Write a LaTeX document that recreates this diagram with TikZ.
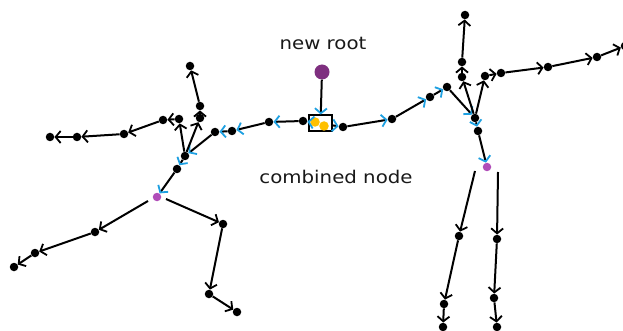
\documentclass[tikz,border=0pt]{standalone}
\usepackage{graphicx}
\usepackage{fontspec}
\setmainfont{DejaVu Sans}
\usetikzlibrary{arrows.meta}
\definecolor{cy}{RGB}{30,160,225}
\definecolor{pm}{RGB}{176,77,184}
\definecolor{rp}{RGB}{126,47,127}
\definecolor{yl}{RGB}{255,192,0}
\begin{document}
\begin{tikzpicture}[x=1pt,y=-1pt,
 dot/.style={circle,fill=black,inner sep=0pt,minimum size=8.5pt},
 pdot/.style={circle,fill=pm,inner sep=0pt,minimum size=8.5pt},
 rdot/.style={circle,fill=rp,inner sep=0pt,minimum size=15pt},
 ydot/.style={circle,fill=yl,inner sep=0pt,minimum size=9.5pt},
 cbox/.style={draw,line width=2pt,inner sep=0pt,minimum width=23pt,minimum height=16pt},
 e/.style={line width=2pt,-{Straight Barb[length=5pt,width=12pt,line width=1.8pt]}},
 ce/.style={line width=2pt,-{Straight Barb[length=5pt,width=12pt,line width=1.8pt,color=cy]}},
 lbl/.style={font=\fontsize{17.5}{20}\selectfont,inner sep=0pt,text=black!90}]
\useasboundingbox (0,0) rectangle (623,331);
% labels
\node[lbl] (t1) at (323,43) {\scalebox{1.13}[1]{new root}};
\node[lbl] (t2) at (336,177) {\scalebox{1.13}[1]{combined node}};
% combined node
\node[cbox] (box) at (320.5,123.5) {};
\node[ydot] (y1) at (315,122) {};
\node[ydot] (y2) at (324,126) {};
\node[rdot] (root) at (322,72) {};
% left tree
\node[dot] (A1) at (50,137) {};
\node[dot] (A2) at (77,137) {};
\node[dot] (A3) at (124,134) {};
\node[dot] (A4) at (163,120) {};
\node[dot] (A5) at (179,119) {};
\node[dot] (B1) at (190,66) {};
\node[dot] (B2) at (200,106) {};
\node[dot] (B3) at (200,118) {};
\node[dot] (C1) at (185,156) {};
\node[dot] (C2) at (177,169) {};
\node[pdot] (P1) at (157,197) {};
\node[dot] (D) at (215,132) {};
\node[dot] (E) at (232,131) {};
\node[dot] (F) at (269,122) {};
\node[dot] (G) at (303,121) {};
% right tree
\node[dot] (H) at (343,127) {};
\node[dot] (I) at (392,119) {};
\node[dot] (J) at (430,97) {};
\node[dot] (K) at (447,87) {};
\node[dot] (L) at (475,118) {};
\node[dot] (L2) at (478,131) {};
\node[pdot] (P2) at (487,167) {};
\node[dot] (M1) at (462,77) {};
\node[dot] (M2) at (462,62) {};
\node[dot] (M3) at (465,15) {};
\node[dot] (N1) at (485,76) {};
\node[dot] (N2) at (501,73) {};
\node[dot] (N3) at (548,67) {};
\node[dot] (N4) at (597,57) {};
\node[dot] (N5) at (625,46) {};
% bottom
\node[dot] (Q1) at (95,232) {};
\node[dot] (Q2) at (35,253) {};
\node[dot] (Q3) at (14,267) {};
\node[dot] (R1) at (223,224) {};
\node[dot] (R2) at (209,294) {};
\node[dot] (R3) at (237,312) {};
\node[dot] (S1) at (459,236) {};
\node[dot] (S2) at (444,304) {};
\node[dot] (S3) at (443,327) {};
\node[dot] (T1) at (497,239) {};
\node[dot] (T2) at (494,298) {};
\node[dot] (T3) at (497,327) {};
\coordinate (P1a) at (148,201);
\coordinate (P1b) at (166,199);
\coordinate (P2a) at (475,171);
\coordinate (P2b) at (498,172);
% cyan path edges
\draw[ce] (root) -- (box);
\draw[ce] (box) -- (G);
\draw[ce] (G) -- (F);
\draw[ce] (F) -- (E);
\draw[ce] (E) -- (D);
\draw[ce] (D) -- (C1);
\draw[ce] (C1) -- (C2);
\draw[ce] (C2) -- (P1);
\draw[ce] (box) -- (H);
\draw[ce] (H) -- (I);
\draw[ce] (I) -- (J);
\draw[ce] (J) -- (K);
\draw[ce] (K) -- (L);
\draw[ce] (L) -- (L2);
\draw[ce] (L2) -- (P2);
% black edges
\draw[e] (C1) -- (A5);
\draw[e] (A5) -- (A4);
\draw[e] (A4) -- (A3);
\draw[e] (A3) -- (A2);
\draw[e] (A2) -- (A1);
\draw[e] (C1) -- (B3);
\draw[e] (B3) -- (B2);
\draw[e] (B2) -- (B1);
\draw[e] (L) -- (M1);
\draw[e] (M1) -- (M2);
\draw[e] (M2) -- (M3);
\draw[e] (L) -- (N1);
\draw[e] (N1) -- (N2);
\draw[e] (N2) -- (N3);
\draw[e] (N3) -- (N4);
\draw[e] (N4) -- (N5);
\draw[e] (P1a) -- (Q1);
\draw[e] (Q1) -- (Q2);
\draw[e] (Q2) -- (Q3);
\draw[e] (P1b) -- (R1);
\draw[e] (R1) -- (R2);
\draw[e] (R2) -- (R3);
\draw[e] (P2a) -- (S1);
\draw[e] (S1) -- (S2);
\draw[e] (S2) -- (S3);
\draw[e] (P2b) -- (T1);
\draw[e] (T1) -- (T2);
\draw[e] (T2) -- (T3);
\end{tikzpicture}
\end{document}
